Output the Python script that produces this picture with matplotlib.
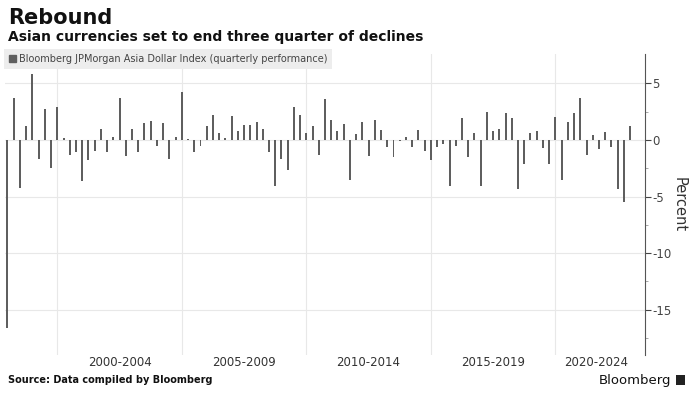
import matplotlib.pyplot as plt
import numpy as np
from matplotlib.patches import Patch, Rectangle

plt.rcParams['axes.unicode_minus'] = False
plt.rcParams['font.family'] = 'DejaVu Sans'

# quarterly performance (%), Q4 1997 .. Q4 2022, plotted at quarter end
changes = [-16.6, 3.7, -4.2, 1.2, 5.8, -1.7, 2.7, -2.5, 2.9, 0.2,
           -1.35, -1.1, -3.6, -1.8, -0.95, 1.0, -1.1, 0.25, 3.75, -1.4,
           1.0, -1.05, 1.5, 1.7, -0.5, 1.5, -1.7, 0.25, 4.2, 0.1,
           -1.05, -0.5, 1.2, 2.25, 0.6, 0.15, 2.1, 0.8, 1.3, 1.3,
           1.55, 1.0, -1.1, -4.1, -1.7, -2.65, 2.9, 2.2, 0.65, 1.25,
           -1.3, 3.6, 1.75, 0.75, 1.4, -3.5, 0.5, 1.55, -1.4, 1.75,
           0.9, -0.65, -1.5, -0.05, 0.25, -0.65, 0.9, -1.0, -1.8, -0.65,
           -0.35, -4.1, -0.5, 1.9, -1.5, 0.6, -4.1, 2.5, 0.75, 0.95,
           2.4, 1.9, -4.3, -2.1, 0.6, 0.8, -0.75, -2.1, 2.0, -3.5,
           1.55, 2.4, 3.7, -1.35, 0.4, -0.8, 0.7, -0.65, -4.3, -5.5,
           1.2]
first_quarter_end = 1998.0
periods = ["2000-2004", "2005-2009", "2010-2014", "2015-2019", "2020-2024"]
period_years = [2000, 2005, 2010, 2015, 2020]

x = first_quarter_end + 0.25 * np.arange(len(changes))
x_end = x[-1] + 0.25

fig = plt.figure(figsize=(6.95, 3.99), dpi=100)
ax = fig.add_axes([0.0072, 0.1103, 0.9209, 0.7544])

ax.bar(x, changes, width=0.08, color='#5f5f5f', linewidth=0, zorder=3)

ax.set_xlim(x[0] - 0.1, x[0] + 25.6)
ax.set_ylim(-19, 7.6)

# period separators + centred labels
ax.set_xticks(period_years)
ax.set_xticklabels([])
label_pos = [(s + min(s + 5, x_end)) / 2 for s in period_years]
ax.set_xticks(label_pos, periods, minor=True)
ax.tick_params(axis='x', which='both', length=0, labelsize=8.5, colors='#333333', pad=1)
ax.grid(axis='x', which='major', color='#e8e8e8', lw=0.8, zorder=0)

ax.yaxis.tick_right()
ax.yaxis.set_label_position('right')
ax.set_yticks([5, 0, -5, -10, -15])
ax.set_yticks([2.5, -2.5, -7.5, -12.5, -17.5], minor=True)
ax.tick_params(axis='y', which='major', length=4, width=0.8, colors='#444444', labelsize=8.5, pad=1)
ax.tick_params(axis='y', which='minor', length=2.5, width=0.6, color='#999999')
ax.grid(axis='y', which='major', color='#e8e8e8', lw=0.8, zorder=0)
ax.set_ylabel('Percent', rotation=270, labelpad=11, fontsize=10.5, color='#333333')

for s in ['left', 'top', 'bottom']:
    ax.spines[s].set_visible(False)
ax.spines['right'].set_color('#555555')
ax.spines['right'].set_linewidth(0.8)

# legend box
leg = ax.legend(handles=[Patch(color='#5f5f5f', label='Bloomberg JPMorgan Asia Dollar Index (quarterly performance)')],
                loc='upper left', bbox_to_anchor=(0.006, 0.877), bbox_transform=fig.transFigure,
                frameon=True, fancybox=False, facecolor='#ededed', edgecolor='none', framealpha=1,
                fontsize=7.0, handlelength=0.7, handleheight=0.7, handletextpad=0.3,
                borderpad=0.5, borderaxespad=0)
for t in leg.get_texts():
    t.set_color('#444444')

fig.text(0.011, 0.955, 'Rebound', fontsize=15, fontweight='bold', va='center', color='#111111')
fig.text(0.011, 0.908, 'Asian currencies set to end three quarter of declines',
         fontsize=10, fontweight='bold', va='center', color='#111111')
fig.text(0.011, 0.047, 'Source: Data compiled by Bloomberg', fontsize=7, fontweight='bold',
         va='center', color='#111111')
fig.text(0.966, 0.047, 'Bloomberg', fontsize=9.5, ha='right', va='center', color='#111111')
fig.patches.append(Rectangle((0.973, 0.035), 0.013, 0.026, transform=fig.transFigure,
                             facecolor='#222222', edgecolor='none'))

fig.savefig('out.png', dpi=100)
